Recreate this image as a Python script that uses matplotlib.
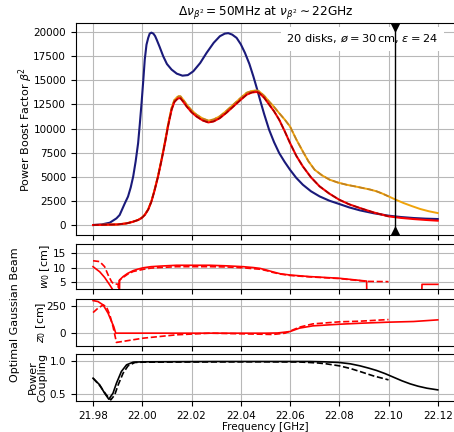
import numpy as np
import matplotlib
matplotlib.use('Agg')
import matplotlib.pyplot as plt

plt.rcParams['font.size'] = 8
plt.rcParams['xtick.labelsize'] = 7.5
plt.rcParams['ytick.labelsize'] = 7.5

# boost factor curves [GHz], [beta^2]
freq_blue = [21.980, 21.9835, 21.9868, 21.9895, 21.9908, 21.9929, 21.9942, 21.9953,
             21.9963, 21.9973, 21.9983, 21.9990, 21.9997, 22.0004, 22.0010, 22.0017,
             22.0024, 22.0030, 22.0037, 22.0045, 22.0052, 22.0058, 22.0070, 22.0085,
             22.0100, 22.0119, 22.0140, 22.0163, 22.0185, 22.0207, 22.0235, 22.0261,
             22.0290, 22.0315, 22.0335, 22.0349, 22.0365, 22.0383, 22.0400, 22.0417,
             22.0435, 22.0451, 22.0465, 22.0478, 22.0495, 22.0515, 22.0535, 22.0556,
             22.0578, 22.0600, 22.0625, 22.0652, 22.0685, 22.0720, 22.0760, 22.0800,
             22.0840, 22.0884, 22.0940, 22.1000, 22.1050, 22.1102, 22.1150, 22.1200]
boost_blue = [0, 60, 240, 690, 1040, 2250, 2950, 3900,
              5030, 6600, 8490, 10500, 12650, 15000, 17160, 18700,
              19410, 19850, 19950, 19850, 19600, 19250, 18500, 17500,
              16700, 16120, 15700, 15490, 15550, 15940, 16800, 17850,
              18900, 19580, 19850, 19900, 19750, 19410, 18750, 17850,
              16700, 15420, 14200, 13000, 11500, 9880, 8600, 7460,
              6550, 5730, 4900, 4180, 3500, 2970, 2520, 2180,
              1830, 1520, 1220, 970, 830, 725, 660, 620]

freq_red = [21.980, 21.9900, 21.9936, 21.9960, 21.9983, 21.9997, 22.0010, 22.0024,
            22.0037, 22.0050, 22.0064, 22.0078, 22.0092, 22.0105, 22.0119, 22.0130,
            22.0139, 22.0147, 22.0155, 22.0166, 22.0180, 22.0200, 22.0220, 22.0245,
            22.0268, 22.0290, 22.0315, 22.0342, 22.0370, 22.0398, 22.0424, 22.0445,
            22.0464, 22.0475, 22.0495, 22.0515, 22.0535, 22.0556, 22.0578, 22.0600,
            22.0625, 22.0652, 22.0685, 22.0720, 22.0760, 22.0800, 22.0840, 22.0884,
            22.0940, 22.1000, 22.1050, 22.1102, 22.1150, 22.1200]
boost_red = [0, 60, 170, 320, 520, 720, 1040, 1600,
             2430, 3600, 5030, 6700, 8490, 10300, 11960, 12750,
             13000, 13150, 13150, 12800, 12300, 11700, 11260, 10850,
             10640, 10750, 11090, 11650, 12300, 12950, 13520, 13750,
             13800, 13700, 13200, 12500, 11800, 10920, 9750, 8500,
             7200, 6080, 4950, 4010, 3250, 2620, 2150, 1760,
             1300, 900, 740, 620, 530, 450]

freq_orange = [21.980, 21.9900, 21.9936, 21.9960, 21.9983, 21.9997, 22.0010, 22.0024,
               22.0037, 22.0050, 22.0064, 22.0078, 22.0092, 22.0105, 22.0119, 22.0130,
               22.0139, 22.0147, 22.0155, 22.0166, 22.0180, 22.0200, 22.0220, 22.0245,
               22.0268, 22.0290, 22.0315, 22.0342, 22.0370, 22.0398, 22.0424, 22.0445,
               22.0464, 22.0475, 22.0495, 22.0515, 22.0535, 22.0556, 22.0578, 22.0600,
               22.0625, 22.0652, 22.0675, 22.0700, 22.0730, 22.0761, 22.0795, 22.0829,
               22.0865, 22.0897, 22.0925, 22.0952, 22.0976, 22.1000, 22.1030, 22.1061,
               22.1095, 22.1129, 22.1165, 22.1200]
boost_orange = [0, 60, 170, 330, 530, 740, 1060, 1640,
                2480, 3680, 5120, 6820, 8640, 10480, 12150, 12950,
                13200, 13350, 13350, 13000, 12500, 11900, 11450, 11050,
                10830, 10950, 11280, 11850, 12500, 13150, 13720, 13900,
                13950, 13850, 13400, 12810, 12250, 11600, 10950, 10220,
                8900, 7630, 6600, 5730, 5150, 4700, 4400, 4180,
                4000, 3830, 3680, 3490, 3250, 2970, 2620, 2280,
                1960, 1660, 1420, 1240]

# beam waist w0 [cm]
freq_w0 = [21.980, 21.9827, 21.9847, 21.9868, 21.9879, 21.9880, 21.9907, 21.9908,
           21.9922, 21.9940, 21.9963, 21.9985, 22.0003, 22.0035, 22.0071, 22.0139,
           22.0207, 22.0275, 22.0342, 22.0410, 22.0450, 22.0478, 22.0505, 22.0529,
           22.0560, 22.0600, 22.0679, 22.0800, 22.0911, 22.0912, 22.1135, 22.1136,
           22.1200]
w0 = [10.3, 8.5, 6.5, 3.8, 2.3, 0.0, 0.0, 5.6,
      6.8, 7.9, 8.9, 9.5, 9.9, 10.3, 10.5, 10.8,
      10.8, 10.8, 10.6, 10.3, 10.0, 9.7, 9.1, 8.5,
      7.8, 7.35, 6.8, 6.2, 5.2, 0.0, 0.0, 4.05,
      4.05]
freq_w0_d = [21.980, 21.9827, 21.9847, 21.9861, 21.9875, 21.9884, 21.9902, 21.9903,
             21.9905, 21.9906, 21.9922, 21.9940, 21.9963, 21.9985, 22.0003, 22.0035,
             22.0071, 22.0139, 22.0207, 22.0275, 22.0342, 22.0410, 22.0450, 22.0478,
             22.0505, 22.0529, 22.0560, 22.0600, 22.0679, 22.0800, 22.0911, 22.1000]
w0_d = [12.4, 12.1, 10.3, 7.4, 5.0, 4.2, 4.1, 0.0,
        0.0, 5.4, 6.5, 7.6, 8.6, 9.0, 9.35, 9.8,
        10.0, 10.3, 10.3, 10.3, 10.2, 9.9, 9.6, 9.4,
        8.9, 8.3, 7.7, 7.2, 6.7, 6.1, 5.1, 5.0]

# waist position z0 [cm]
freq_z0 = [21.980, 21.982, 21.9841, 21.9861, 21.9875, 21.9884, 21.9892, 22.0500,
           22.0550, 22.0600, 22.0638, 22.0692, 22.0800, 22.0884, 22.1000, 22.1102, 22.1200]
z0 = [299, 290, 259, 183, 107, 61, 0, 0,
      2, 15, 46, 67, 82, 91, 101, 107, 122]
freq_z0_d = [21.980, 21.982, 21.9841, 21.9854, 21.9868, 21.9881, 21.9895, 22.0003,
             22.0139, 22.0275, 22.0410, 22.0529, 22.0580, 22.0638, 22.0692, 22.0800,
             22.0884, 22.1000]
z0_d = [189, 229, 259, 244, 168, 61, -85, -46,
        -15, 0, -6, -12, 0, 55, 85, 104,
        110, 125]

# power coupling
freq_pc = [21.980, 21.9827, 21.9847, 21.9864, 21.9881, 21.9895, 21.9915, 21.9936,
           21.9963, 22.0003, 22.0300, 22.0600, 22.0679, 22.0740, 22.0800, 22.0845,
           22.0884, 22.0920, 22.0952, 22.0985, 22.1020, 22.1055, 22.1088, 22.1120,
           22.1156, 22.1200]
pc = [0.74, 0.64, 0.515, 0.425, 0.515, 0.665, 0.84, 0.94,
      0.98, 0.985, 0.99, 0.99, 0.99, 0.985, 0.975, 0.955,
      0.925, 0.89, 0.855, 0.81, 0.755, 0.70, 0.655, 0.62,
      0.59, 0.565]
freq_pc_d = [21.980, 21.9827, 21.9854, 21.9872, 21.9888, 21.9902, 21.9922, 21.9942,
             21.9970, 22.0003, 22.0475, 22.0640, 22.0679, 22.0715, 22.0747, 22.0800,
             22.0845, 22.0884, 22.0938, 22.1000]
pc_d = [0.74, 0.63, 0.49, 0.415, 0.49, 0.64, 0.815, 0.925,
        0.975, 0.98, 0.985, 0.982, 0.975, 0.967, 0.955, 0.925,
        0.885, 0.84, 0.775, 0.715]

f_marker = 22.1025
xticks = [21.98, 22.00, 22.02, 22.04, 22.06, 22.08, 22.10, 22.12]


def upto(fr, val, fmax=22.1001):
    fr = np.array(fr)
    val = np.array(val)
    m = fr <= fmax
    return fr[m], val[m]


fig = plt.figure(figsize=(4.54, 4.32), dpi=100)
W = 455 / 454 - 0.167
ax1 = fig.add_axes([0.167, 0.456, W, 0.491])
ax2 = fig.add_axes([0.167, 0.331, W, 0.104], sharex=ax1)
ax3 = fig.add_axes([0.167, 0.200, W, 0.108], sharex=ax1)
ax4 = fig.add_axes([0.167, 0.072, W, 0.109], sharex=ax1)

# main panel
ax1.plot(freq_blue, boost_blue, color='#1a1a7a', lw=1.5)
ax1.plot(freq_orange, boost_orange, color='#f0a30a', lw=1.4)
ax1.plot(*upto(freq_orange, boost_orange), color='#c08020', ls='--', lw=1.2)
ax1.plot(freq_red, boost_red, color='red', lw=1.5)
ax1.plot(*upto(freq_red, boost_red), color='#a00000', ls='--', lw=1.1)
ax1.set_ylim(-1036, 20963)
ax1.axvline(f_marker, color='k', lw=1, zorder=5)
ax1.plot([f_marker], [20963], marker='v', color='k', ms=11, zorder=6)
ax1.plot([f_marker], [-1036], marker='^', color='k', ms=11, zorder=6)
ax1.text(0.955, 0.955, r'20 disks, $\o = 30\,$cm, $\epsilon = 24$',
         transform=ax1.transAxes, ha='right', va='top', fontsize=8.2, zorder=4,
         bbox=dict(facecolor='white', edgecolor='none', pad=4))
ax1.set_title(r'$\Delta\nu_{\beta^2} = 50$MHz at $\nu_{\beta^2} \sim 22$GHz', fontsize=8.7)
ax1.set_ylabel(r'Power Boost Factor $\beta^2$')
ax1.yaxis.set_label_coords(-0.108, 0.5)

# w0
ax2.plot(freq_w0, w0, color='red', lw=1.2)
ax2.plot(freq_w0_d, w0_d, color='red', ls='--', lw=1.2)
ax2.set_ylim(2.4, 18.3)
ax2.set_yticks([5, 10, 15])
ax2.set_ylabel(r'$w_0$ [cm]')
ax2.yaxis.set_label_coords(-0.064, 0.5)

# z0
ax3.plot(freq_z0, z0, color='red', lw=1.2)
ax3.plot(freq_z0_d, z0_d, color='red', ls='--', lw=1.2)
ax3.set_ylim(-114, 314)
ax3.set_yticks([0, 250])
ax3.set_ylabel(r'$z_0$ [cm]')
ax3.yaxis.set_label_coords(-0.074, 0.5)

# coupling
ax4.plot(freq_pc, pc, color='k', lw=1.2)
ax4.plot(freq_pc_d, pc_d, color='k', ls='--', lw=1.2)
ax4.set_ylim(0.4, 1.105)
ax4.set_yticks([0.5, 1.0])
ax4.set_ylabel('Power\nCoupling', linespacing=1.0)
ax4.yaxis.set_label_coords(-0.074, 0.5)
ax4.set_xlabel('Frequency [GHz]', fontsize=7.5, labelpad=1)

for ax in (ax1, ax2, ax3, ax4):
    ax.grid(True, color='#b8b8b8', lw=0.8)
    ax.set_xticks(xticks)
    ax.set_xlim(21.973, 22.127)
for ax in (ax1, ax2, ax3):
    ax.tick_params(labelbottom=False)
ax4.set_xticklabels(['%.2f' % t for t in xticks])

fig.text(0.033, 0.271, 'Optimal Gaussian Beam', rotation=90, ha='center', va='center', fontsize=8)

fig.savefig('out.png', dpi=100)
